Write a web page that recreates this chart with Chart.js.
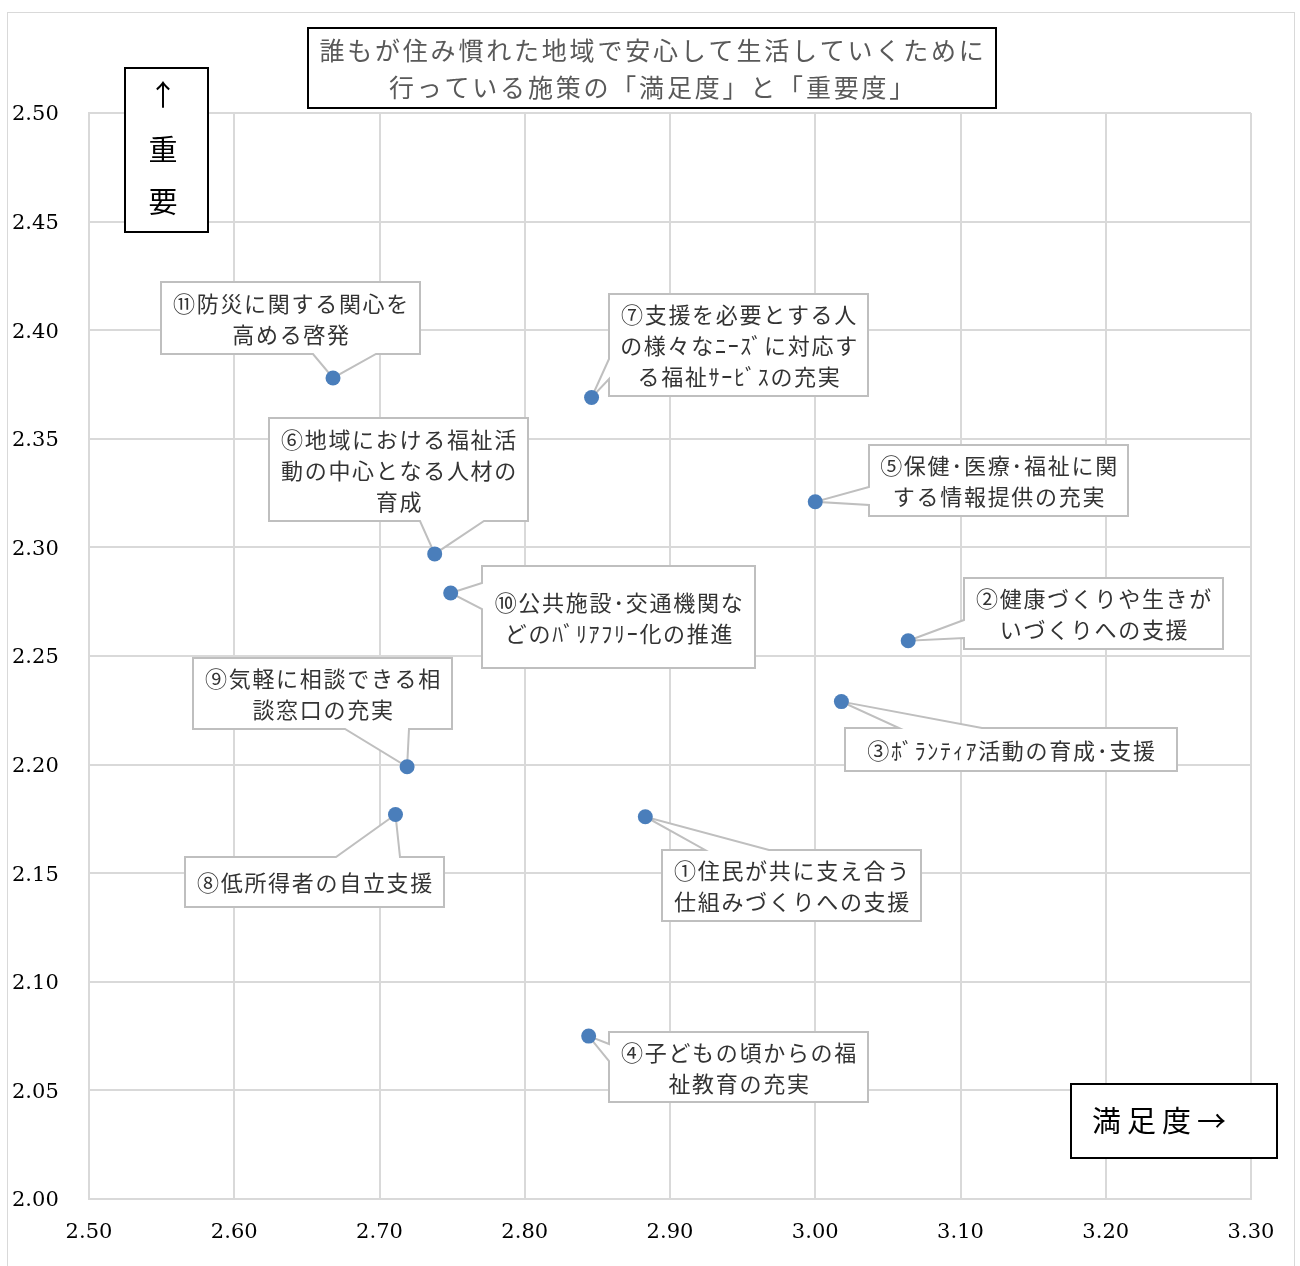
<!DOCTYPE html>
<html lang="ja">
<head>
<meta charset="utf-8">
<script src="https://cdn.jsdelivr.net/npm/chart.js@4"></script>
<style>
html, body { margin: 0; padding: 0; background: #fff; }
#wrap { width: 1300px; height: 1266px; position: relative; }
</style>
</head>
<body>
<div id="wrap"><canvas id="c" width="1300" height="1266"></canvas></div>
<script>
// 施策ごとの名称（吹き出しの行単位）
const itemLabels = [
  ['①住民が共に支え合う', '仕組みづくりへの支援'],
  ['②健康づくりや生きが', 'いづくりへの支援'],
  ['③ﾎﾞﾗﾝﾃｨｱ活動の育成･支援'],
  ['④子どもの頃からの福', '祉教育の充実'],
  ['⑤保健･医療･福祉に関', 'する情報提供の充実'],
  ['⑥地域における福祉活', '動の中心となる人材の', '育成'],
  ['⑦支援を必要とする人', 'の様々なﾆｰｽﾞに対応す', 'る福祉ｻｰﾋﾞｽの充実'],
  ['⑧低所得者の自立支援'],
  ['⑨気軽に相談できる相', '談窓口の充実'],
  ['⑩公共施設･交通機関な', 'どのﾊﾞﾘｱﾌﾘｰ化の推進'],
  ['⑪防災に関する関心を', '高める啓発']
];
// 満足度（横軸）
const satisfaction = [2.883, 3.064, 3.018, 2.844, 3.000, 2.738, 2.846, 2.711, 2.719, 2.749, 2.668];
// 重要度（縦軸）
const importance = [2.176, 2.257, 2.229, 2.075, 2.321, 2.297, 2.369, 2.177, 2.199, 2.279, 2.378];
// 目盛り
const xTicks = [2.50, 2.60, 2.70, 2.80, 2.90, 3.00, 3.10, 3.20, 3.30];
const yTicks = [2.00, 2.05, 2.10, 2.15, 2.20, 2.25, 2.30, 2.35, 2.40, 2.45, 2.50];
const titleLines = ['誰もが住み慣れた地域で安心して生活していくために', '行っている施策の「満足度」と「重要度」'];

// 吹き出しの配置（点からの相対位置と、引き出し線の付け根）
const calloutLayout = [
  { dx: 17,   dy: 33,   w: 259, h: 71,  side: 'top',    a: 43,  b: 107 },
  { dx: 56,   dy: -63,  w: 259, h: 71,  side: 'left',   a: 42,  b: 60 },
  { dx: 4,    dy: 26,   w: 332, h: 43,  side: 'top',    a: 54,  b: 137 },
  { dx: 20,   dy: -4,   w: 259, h: 70,  side: 'left',   a: 12,  b: 29 },
  { dx: 54,   dy: -57,  w: 259, h: 71,  side: 'left',   a: 42,  b: 60 },
  { dx: -166, dy: -136, w: 259, h: 103, side: 'bottom', a: 151, b: 215 },
  { dx: 17,   dy: -104, w: 259, h: 102, side: 'left',   a: 65,  b: 85 },
  { dx: -210, dy: 42,   w: 259, h: 50,  side: 'top',    a: 151, b: 215 },
  { dx: -214, dy: -109, w: 259, h: 71,  side: 'bottom', a: 152, b: 216 },
  { dx: 31,   dy: -27,  w: 273, h: 102, side: 'left',   a: 17,  b: 43 },
  { dx: -172, dy: -96,  w: 259, h: 72,  side: 'bottom', a: 152, b: 215 }
];

const JP = '"Noto Sans CJK JP", "Noto Sans", sans-serif';

const points = satisfaction.map((x, i) => ({ x: x, y: importance[i] }));

const calloutPlugin = {
  id: 'callouts',
  beforeDatasetsDraw(chart) {
    const ctx = chart.ctx;
    const meta = chart.getDatasetMeta(0);
    ctx.save();
    meta.data.forEach((el, i) => {
      const L = calloutLayout[i];
      const px = el.x, py = el.y;
      const x = Math.round(px + L.dx), y = Math.round(py + L.dy);
      const w = L.w, h = L.h;
      ctx.beginPath();
      ctx.moveTo(x, y);
      if (L.side === 'top') { ctx.lineTo(x + L.a, y); ctx.lineTo(px, py); ctx.lineTo(x + L.b, y); }
      ctx.lineTo(x + w, y);
      if (L.side === 'right') { ctx.lineTo(x + w, y + L.a); ctx.lineTo(px, py); ctx.lineTo(x + w, y + L.b); }
      ctx.lineTo(x + w, y + h);
      if (L.side === 'bottom') { ctx.lineTo(x + L.b, y + h); ctx.lineTo(px, py); ctx.lineTo(x + L.a, y + h); }
      ctx.lineTo(x, y + h);
      if (L.side === 'left') { ctx.lineTo(x, y + L.b); ctx.lineTo(px, py); ctx.lineTo(x, y + L.a); }
      ctx.closePath();
      ctx.fillStyle = '#ffffff';
      ctx.fill();
      ctx.strokeStyle = '#bfbfbf';
      ctx.lineWidth = 2;
      ctx.lineJoin = 'miter';
      ctx.stroke();

      const lines = itemLabels[i];
      const lh = 31;
      ctx.fillStyle = '#333333';
      ctx.font = '22px ' + JP;
      ctx.letterSpacing = '1.7px';
      ctx.textAlign = 'center';
      ctx.textBaseline = 'middle';
      const cy = y + h / 2 - (lines.length - 1) * lh / 2;
      lines.forEach((t, k) => ctx.fillText(t, x + w / 2 + 1, cy + k * lh + 1));
    });
    ctx.restore();
  }
};

const framePlugin = {
  id: 'frames',
  beforeDraw(chart) {
    const ctx = chart.ctx;
    ctx.save();
    ctx.fillStyle = '#ffffff';
    ctx.fillRect(0, 0, chart.width, chart.height);
    ctx.strokeStyle = '#d9d9d9';
    ctx.lineWidth = 1;
    ctx.strokeRect(7.5, 12.5, 1287, 1270);
    ctx.restore();
  },
  afterDraw(chart) {
    const ctx = chart.ctx;
    ctx.save();
    // タイトル枠
    ctx.fillStyle = '#ffffff';
    ctx.fillRect(308, 28, 688, 80);
    ctx.strokeStyle = '#000000';
    ctx.lineWidth = 2;
    ctx.strokeRect(308, 28, 688, 80);
    ctx.fillStyle = '#595959';
    ctx.font = '25px ' + JP;
    ctx.letterSpacing = '2.8px';
    ctx.textAlign = 'center';
    ctx.textBaseline = 'middle';
    ctx.fillText(titleLines[0], 653, 50);
    ctx.fillText(titleLines[1], 653, 87);

    // 縦軸の見出し
    ctx.fillStyle = '#ffffff';
    ctx.fillRect(125, 68, 83, 164);
    ctx.strokeRect(125, 68, 83, 164);
    ctx.fillStyle = '#000000';
    ctx.font = '29px ' + JP;
    ctx.letterSpacing = '0px';
    ctx.fillText('↑', 163, 95);
    ctx.fillText('重', 163, 150);
    ctx.fillText('要', 163, 202);

    // 横軸の見出し
    ctx.fillStyle = '#ffffff';
    ctx.fillRect(1071, 1084, 206, 74);
    ctx.strokeRect(1071, 1084, 206, 74);
    ctx.fillStyle = '#000000';
    ctx.font = '29px ' + JP;
    ctx.letterSpacing = '6px';
    ctx.textAlign = 'left';
    ctx.fillText('満足度→', 1092, 1121);
    ctx.restore();
  }
};

new Chart(document.getElementById('c'), {
  type: 'scatter',
  data: {
    datasets: [{
      data: points,
      backgroundColor: '#4A7EBB',
      borderWidth: 0,
      pointRadius: 7.5,
      pointHoverRadius: 7.5
    }]
  },
  options: {
    responsive: false,
    animation: false,
    devicePixelRatio: 1,
    layout: { padding: { left: 12, right: 49, top: 113, bottom: 0 } },
    plugins: { legend: { display: false }, tooltip: { enabled: false } },
    scales: {
      x: {
        type: 'linear',
        min: xTicks[0],
        max: xTicks[xTicks.length - 1],
        afterBuildTicks: s => { s.ticks = xTicks.map(v => ({ value: v })); },
        afterFit: s => { s.height = 67; },
        grid: { color: '#d9d9d9', lineWidth: 2, drawTicks: false },
        border: { color: '#d9d9d9', width: 2 },
        ticks: {
          padding: 21,
          color: '#000000',
          font: { family: '"DejaVu Serif", serif', size: 21 },
          callback: v => Number(v).toFixed(2)
        }
      },
      y: {
        type: 'linear',
        min: yTicks[0],
        max: yTicks[yTicks.length - 1],
        afterBuildTicks: s => { s.ticks = yTicks.map(v => ({ value: v })); },
        afterFit: s => { s.width = 77; },
        grid: { color: '#d9d9d9', lineWidth: 2, drawTicks: false },
        border: { color: '#d9d9d9', width: 2 },
        ticks: {
          crossAlign: 'far',
          padding: 0,
          labelOffset: 2,
          color: '#000000',
          font: { family: '"DejaVu Serif", serif', size: 21 },
          callback: v => Number(v).toFixed(2)
        }
      }
    }
  },
  plugins: [framePlugin, calloutPlugin]
});
</script>
</body>
</html>
